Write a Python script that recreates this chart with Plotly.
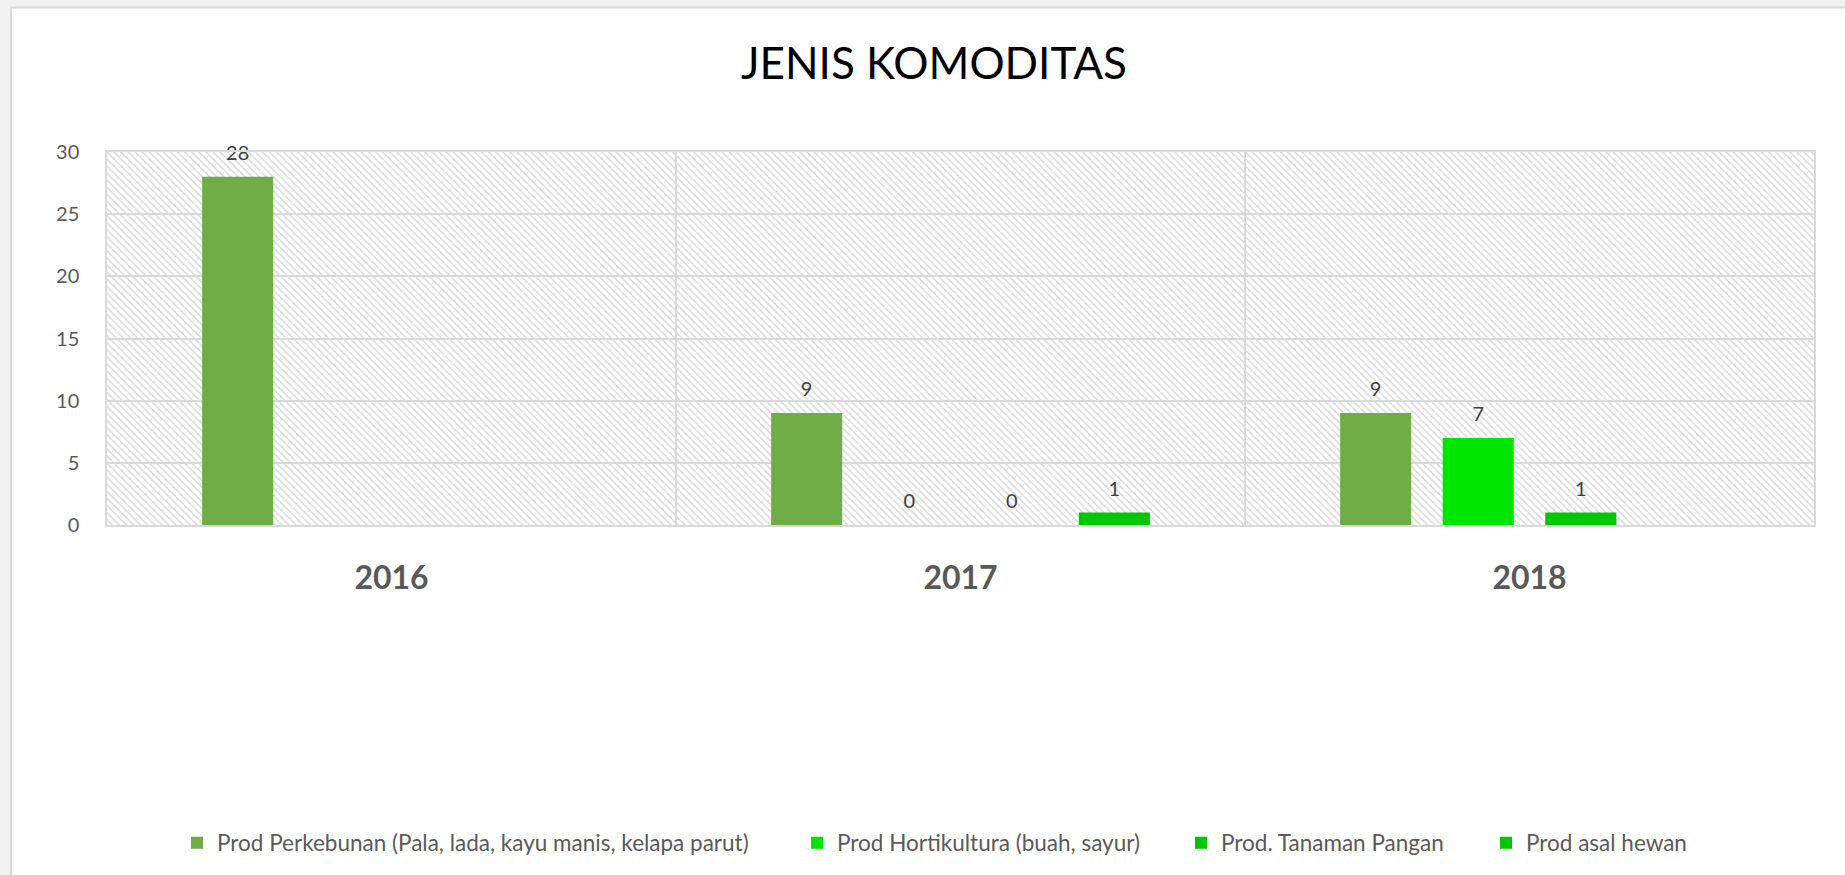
import plotly.graph_objects as go

# ---------------- data ----------------
years = ["2016", "2017", "2018"]
series_names = [
    "Prod Perkebunan (Pala, lada, kayu manis, kelapa parut)",
    "Prod Hortikultura (buah, sayur)",
    "Prod. Tanaman Pangan",
    "Prod asal hewan",
]
perkebunan = [28, 9, 9]
hortikultura = [None, 0, 7]
tanaman_pangan = [None, 0, 1]
asal_hewan = [None, 1, None]
series_values = [perkebunan, hortikultura, tanaman_pangan, asal_hewan]
series_colors = ["#70AD47", "#00E600", "#00C800", "#00C800"]
y_ticks = [0, 5, 10, 15, 20, 25, 30]
title_text = "JENIS KOMODITAS"

# ---------------- layout geometry (pixels) ----------------
W, H = 1845, 875
ML, MR, MT, MB = 107, 31, 152, 349
PW = W - ML - MR
PH = H - MT - MB


def px_x(px):
    return (px - ML) / PW


def px_y(py):
    return (H - MB - py) / PH


FONT = "Lato, 'Open Sans', sans-serif"
GRAY_TXT = "#595959"
GRID = "#D9D9D9"

fig = go.Figure()

# hatched plot-area background (decoration on hidden helper axes)
fig.add_trace(go.Bar(
    x=[0.5], y=[1], width=[1], xaxis="x", yaxis="y",
    marker=dict(color="#D9D9D9", line=dict(width=0),
                pattern=dict(shape="\\", size=5, solidity=0.3, fillmode="replace")),
    hoverinfo="skip", showlegend=False,
))

legend_ids = ["legend", "legend2", "legend3", "legend4"]
for name, vals, col, lg in zip(series_names, series_values, series_colors, legend_ids):
    fig.add_trace(go.Bar(
        x=years, y=vals, name=name, xaxis="x2", yaxis="y2",
        marker=dict(color=col, line=dict(width=0)),
        texttemplate="<span style='font-size:20px'>%{y}</span><br>&nbsp;",
        textposition="outside",
        textfont=dict(family=FONT, size=9, color="#404040"),
        cliponaxis=False,
        legend=lg,
    ))

legend_marker_px = [197, 817, 1201, 1506]
legend_y = px_y(843)
legend_common = dict(
    orientation="h", xanchor="left", yanchor="middle", y=legend_y,
    font=dict(family=FONT, size=22.5, color=GRAY_TXT),
    bgcolor="rgba(0,0,0,0)", itemwidth=30, itemclick=False,
)

layout_legends = {}
for lg, mpx in zip(legend_ids, legend_marker_px):
    layout_legends[lg] = dict(legend_common, x=px_x(mpx - 20))

fig.update_layout(
    width=W, height=H,
    margin=dict(l=ML, r=MR, t=MT, b=MB, pad=0),
    paper_bgcolor="#F2F2F2",
    plot_bgcolor="#FFFFFF",
    barmode="group",
    bargap=0.279,
    bargroupgap=0.307,
    title=dict(
        text=title_text, x=934 / W, xanchor="center", xref="container",
        y=1 - 64 / H, yanchor="middle", yref="container",
        font=dict(family=FONT, size=44, color="#000000"),
    ),
    xaxis=dict(range=[0, 1], visible=False, fixedrange=True),
    yaxis=dict(range=[0, 1], visible=False, fixedrange=True),
    xaxis2=dict(
        overlaying="x", side="bottom", type="category",
        tickson="boundaries", ticks="", showgrid=True, gridcolor=GRID, gridwidth=1.5,
        showline=True, mirror=True, linecolor=GRID, linewidth=1.5,
        tickfont=dict(family=FONT, size=32, color=GRAY_TXT, weight="bold"),
        ticklabelstandoff=24,
    ),
    yaxis2=dict(
        overlaying="y", side="left", range=[0, 30], tickvals=y_ticks,
        ticks="", showgrid=True, gridcolor=GRID, gridwidth=1.5,
        showline=True, mirror=True, linecolor=GRID, linewidth=1.5,
        zeroline=False,
        tickfont=dict(family=FONT, size=20, color=GRAY_TXT),
        ticklabelstandoff=22,
    ),
    shapes=[
        dict(type="rect", xref="paper", yref="paper",
             x0=px_x(11), x1=px_x(W + 10), y0=px_y(H + 10), y1=px_y(7),
             fillcolor="#FFFFFF", line=dict(color=GRID, width=2), layer="below"),
    ],
    **layout_legends,
)

fig.write_html(
    "out.html",
    config={"displayModeBar": False},
    post_script="document.body.style.margin='0';document.body.style.overflow='hidden';",
)
